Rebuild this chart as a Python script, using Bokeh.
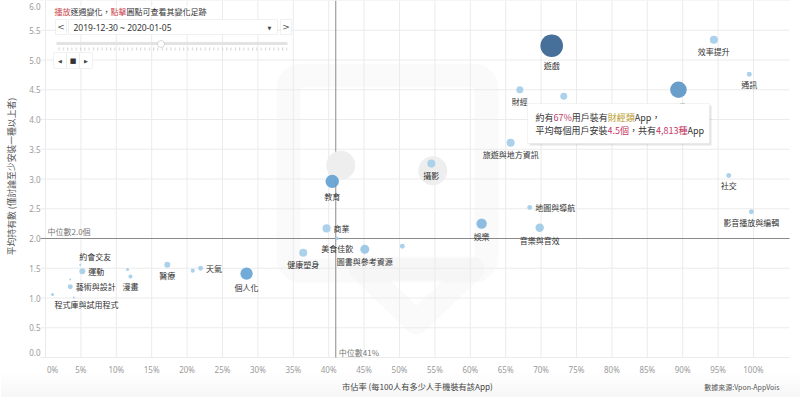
import math
from bokeh.plotting import figure
from bokeh.models import (Range1d, Label, LabelSet, BoxAnnotation, ColumnDataSource,
                          PolyAnnotation)
from bokeh.core.properties import value
from bokeh.embed import file_html
from bokeh.resources import INLINE

# ---------------- data ----------------
categories = ["遊戲", "效率提升", "通訊", "財經", "購物", "工具", "旅遊與地方資訊", "攝影",
              "教育", "社交", "地圖與導航", "影音播放與編輯", "娛樂", "音樂與音效", "商業",
              "美食佳飲", "健康塑身", "圖書與參考資源", "新聞與雜誌", "個人化", "天氣",
              "生活品味", "醫療", "汽車", "漫畫", "運動", "約會交友", "藝術與設計", "活動",
              "房屋和居家裝潢", "程式庫與試用程式"]
share_pct = [71.5, 94.4, 99.4, 67.0, 73.2, 89.4, 65.7, 54.5,
             40.5, 96.5, 68.4, 99.7, 61.6, 69.8, 39.7,
             41.2, 36.4, 45.1, 50.4, 28.4, 21.9,
             20.8, 17.2, 11.6, 12.0, 5.2, 4.9, 3.5, 3.5,
             4.0, 1.0]
avg_apps = [5.24, 5.34, 4.76, 4.5, 4.39, 4.50, 3.61, 3.26,
            2.96, 3.06, 2.52, 2.45, 2.25, 2.18, 2.17,
            2.00, 1.76, 1.82, 1.87, 1.41, 1.50,
            1.46, 1.56, 1.48, 1.36, 1.45, 1.56, 1.19, 1.31,
            1.01, 1.06]
app_count = [50000, 6300, 2400, 4813, 4800, 27000, 6300, 6300,
             17500, 2400, 2400, 2400, 10500, 7000, 6300,
             1300, 6300, 7900, 2400, 15000, 2400,
             1600, 3500, 900, 1600, 3500, 400, 2400, 400,
             400, 900]
# weekly footprint (previous-week positions) for the two highlighted categories
trail_cats = ["教育", "攝影"]
trail_share = [41.7, 54.7]
trail_avg = [3.23, 3.14]

x_ticks = list(range(0, 101, 5))
x_tick_labels = [f"{t}%" for t in x_ticks]
y_ticks = [i * 0.5 for i in range(13)]
y_tick_labels = [f"{t:.1f}" for t in y_ticks]

median_share = 41
median_avg = 2.0
week_label = "2019-12-30 ~ 2020-01-05"
x_title = "市佔率 (每100人有多少人手機裝有該App)"
y_title = "平均持有數 (僅討論至少安裝一種以上者)"
source_text = "數據來源:Vpon-AppVois"

# label placement (style)
below = {"遊戲", "效率提升", "通訊", "財經", "工具", "旅遊與地方資訊", "攝影", "教育", "社交",
         "影音播放與編輯", "娛樂", "音樂與音效", "美食佳飲", "健康塑身", "圖書與參考資源",
         "個人化", "醫療", "漫畫"}
right = {"地圖與導航", "商業", "天氣", "運動", "藝術與設計"}
above = {"約會交友"}
below_right = {"程式庫與試用程式"}

FONT = "Noto Sans CJK TC"

# ---------------- layout (canvas px; the frame covers the whole canvas) ----------------
W, H = 800, 397
X0_PX, PX_PER_PCT = 45, 7.08      # where 0% sits, px per 1%
Y0_PX, PX_PER_UNIT = 357, 59.5    # where 0.0 sits, px per 1.0
XR0 = -X0_PX / PX_PER_PCT
XR1 = XR0 + W / PX_PER_PCT
YR1 = Y0_PX / PX_PER_UNIT
YR0 = YR1 - H / PX_PER_UNIT
PANE_L = XR0 + 40 / PX_PER_PCT
PANE_R = XR0 + 789 / PX_PER_PCT


def sx(wx):
    return wx


def sy(wy):
    return H - wy


p = figure(width=W, height=H, output_backend="svg", toolbar_location=None,
           x_range=Range1d(XR0, XR1), y_range=Range1d(YR0, YR1),
           x_axis_location=None, y_axis_location=None,
           min_border=0, min_border_left=0, min_border_right=0,
           min_border_top=0, min_border_bottom=0)
p.outline_line_color = None
p.background_fill_color = "white"
p.border_fill_color = "white"
p.xgrid.visible = False
p.ygrid.visible = False

# bottom card shadow
for i in range(9):
    p.add_layout(BoxAnnotation(left=0, right=W, bottom=0, top=sy(372 + 3 * i),
                               left_units="screen", right_units="screen",
                               top_units="screen", bottom_units="screen",
                               fill_color="#000000", fill_alpha=0.0055, line_color=None,
                               level="image"))


# ---------------- watermark logo (decoration, screen space) ----------------
def rounded_rect_path(x0, y0, x1, y1, r, n=8):
    pts = []
    corners = [(x1 - r, y0 + r, -90, 0), (x1 - r, y1 - r, 0, 90),
               (x0 + r, y1 - r, 90, 180), (x0 + r, y0 + r, 180, 270)]
    for cx, cy, a0, a1 in corners:
        for i in range(n + 1):
            a = math.radians(a0 + (a1 - a0) * i / n)
            pts.append((cx + r * math.cos(a), cy + r * math.sin(a)))
    return pts


WM = "#f0f0f0"
sq = rounded_rect_path(288, 75, 486, 270, 13)
p.add_layout(PolyAnnotation(xs=[sx(a) for a, b in sq], ys=[sy(b) for a, b in sq],
                            xs_units="screen", ys_units="screen", fill_alpha=0,
                            line_color=WM, line_width=24, line_join="round", level="image"))
tail = [(360, 268), (416, 322), (472, 268)]
p.add_layout(PolyAnnotation(xs=[sx(a) for a, b in tail], ys=[sy(b) for a, b in tail],
                            xs_units="screen", ys_units="screen", fill_alpha=0,
                            line_color=WM, line_width=24, line_join="round", level="image"))

# ---------------- grid ----------------
GRID = "#ebebeb"
p.segment(x0=x_ticks, y0=[0] * len(x_ticks), x1=x_ticks, y1=[YR1] * len(x_ticks),
          line_color=GRID, line_width=1)
p.segment(x0=[PANE_L] * len(y_ticks), y0=y_ticks, x1=[PANE_R] * len(y_ticks), y1=y_ticks,
          line_color=GRID, line_width=1)

# tick labels (edge labels nudged inward like the original)
xt = ColumnDataSource(dict(x=x_ticks, y=[0] * len(x_ticks), text=x_tick_labels,
                           xo=[7 if t == x_ticks[0] else 0 for t in x_ticks],
                           yo=[-12] * len(x_ticks)))
p.add_layout(LabelSet(x="x", y="y", text="text", x_offset="xo", y_offset="yo", source=xt,
                      text_align="center", text_baseline="middle",
                      text_font=value("Noto Sans"), text_font_size=value("8px"),
                      text_color="#9a9a9a"))
yt = ColumnDataSource(dict(x=[40] * len(y_ticks), y=y_ticks, text=y_tick_labels,
                           yo=[5 if t == y_ticks[0] else (-6 if t == y_ticks[-1] else 0)
                               for t in y_ticks]))
p.add_layout(LabelSet(x="x", y="y", text="text", y_offset="yo", source=yt, x_units="screen",
                      text_align="right", text_baseline="middle",
                      text_font=value("Noto Sans"), text_font_size=value("8px"),
                      text_color="#9a9a9a"))

# axis titles & source
p.add_layout(Label(x=sx(417), y=sy(385), x_units="screen", y_units="screen", text=x_title,
                   text_align="center", text_baseline="middle", text_font=FONT,
                   text_font_size="8.2px", text_color="#444444"))
p.add_layout(Label(x=sx(11), y=sy(176), x_units="screen", y_units="screen", text=y_title,
                   angle=math.pi / 2, text_align="center", text_baseline="middle",
                   text_font=FONT, text_font_size="8.8px", text_color="#555555"))
p.add_layout(Label(x=sx(779), y=sy(386), x_units="screen", y_units="screen", text=source_text,
                   text_align="right", text_baseline="middle", text_font=FONT,
                   text_font_size="7px", text_color="#555555"))

# median lines
MED = "#8a8a8a"
p.segment(x0=[median_share], y0=[0], x1=[median_share], y1=[YR1], line_color=MED, line_width=1)
p.segment(x0=[PANE_L], y0=[median_avg], x1=[PANE_R], y1=[median_avg], line_color=MED,
          line_width=1)

# ---------------- bubbles ----------------
rmax = 11.3
kscale = rmax / math.sqrt(max(app_count))
radii = [kscale * math.sqrt(c) for c in app_count]


def hex2rgb(h):
    h = h.lstrip("#")
    return tuple(int(h[i:i + 2], 16) for i in (0, 2, 4))


def mix(a, b, t):
    a, b = hex2rgb(a), hex2rgb(b)
    return "#%02x%02x%02x" % tuple(int(round(a[i] + (b[i] - a[i]) * t)) for i in range(3))


STOPS = [(4.0, "#a6cfea"), (6.3, "#68a5d5"), (8.5, "#6198c6"), (11.3, "#3c6794")]


def bubble_color(r):
    if r <= STOPS[0][0]:
        return STOPS[0][1]
    for (r0, c0), (r1, c1) in zip(STOPS[:-1], STOPS[1:]):
        if r <= r1:
            return mix(c0, c1, (r - r0) / (r1 - r0))
    return STOPS[-1][1]


colors = [bubble_color(r) for r in radii]

trail_src = ColumnDataSource(dict(x=trail_share, y=trail_avg))
p.scatter("x", "y", source=trail_src, size=29, fill_color="#eeeeee", line_color=None)

src = ColumnDataSource(dict(x=share_pct, y=avg_apps, size=[2 * r for r in radii],
                            color=colors, name=categories))
p.scatter("x", "y", source=src, size="size", fill_color="color", fill_alpha=0.95, line_color=None)


def group(names, xoff_fn, yoff_fn):
    idx = [i for i, c in enumerate(categories) if c in names]
    return ColumnDataSource(dict(
        x=[share_pct[i] for i in idx], y=[avg_apps[i] for i in idx],
        text=[categories[i] for i in idx],
        xo=[xoff_fn(radii[i]) for i in idx], yo=[yoff_fn(radii[i]) for i in idx]))


lab_kw = dict(text_font=value(FONT), text_font_size=value("8px"), text_color="#333333")
p.add_layout(LabelSet(x="x", y="y", text="text", x_offset="xo", y_offset="yo",
                      source=group(below, lambda r: 0, lambda r: -(r + 2.5)),
                      text_align="center", text_baseline="top", **lab_kw))
p.add_layout(LabelSet(x="x", y="y", text="text", x_offset="xo", y_offset="yo",
                      source=group(right, lambda r: r + 3, lambda r: 0),
                      text_align="left", text_baseline="middle", **lab_kw))
p.add_layout(LabelSet(x="x", y="y", text="text", x_offset="xo", y_offset="yo",
                      source=group(above, lambda r: -1, lambda r: r + 2),
                      text_align="left", text_baseline="bottom", **lab_kw))
p.add_layout(LabelSet(x="x", y="y", text="text", x_offset="xo", y_offset="yo",
                      source=group(below_right, lambda r: 2, lambda r: -(r + 3)),
                      text_align="left", text_baseline="top", **lab_kw))

# median labels
p.add_layout(Label(x=sx(47), y=median_avg, x_units="screen", y_units="data", y_offset=2,
                   text=f"中位數{median_avg:.1f}個", text_baseline="bottom",
                   text_font=FONT, text_font_size="8px", text_color="#777777"))
p.add_layout(Label(x=median_share, y=sy(352), x_units="data", y_units="screen", x_offset=3,
                   text=f"中位數{median_share}%", text_baseline="middle",
                   text_font=FONT, text_font_size="8px", text_color="#777777"))


# ---------------- helpers for screen-space decorations ----------------
def box(x0, y0, x1, y1, fill="white", line="#cfcfcf", alpha=1.0, radius=0, **kw):
    p.add_layout(BoxAnnotation(left=sx(x0), right=sx(x1), top=sy(y0), bottom=sy(y1),
                               left_units="screen", right_units="screen",
                               top_units="screen", bottom_units="screen",
                               fill_color=fill, fill_alpha=alpha, line_color=line,
                               line_width=1, border_radius=radius, **kw))


def text(wx, wy, t, size=8, color="#333333", align="left", font=FONT, bg=None):
    kw = {}
    if bg is not None:
        kw = dict(background_fill_color=bg, background_fill_alpha=1.0)
    p.add_layout(Label(x=sx(wx), y=sy(wy), x_units="screen", y_units="screen", text=t,
                       text_align=align, text_baseline="middle", text_font=font,
                       text_font_size=f"{size}px", text_color=color, **kw))


def rich_line(wx, wy, segs, size, bg="white"):
    # longest prefix first, each drawn with an opaque background over the previous one
    for k in range(len(segs), 0, -1):
        t = "".join(s for s, _ in segs[:k])
        text(wx, wy, t, size=size, color=segs[k - 1][1], bg=bg)


RED = "#c9484d"
DK = "#333333"

# ---------------- controls (top-left) ----------------
rich_line(54, 11, [("播放", RED), ("逐週變化，", DK), ("點擊", RED), ("圓點可查看其變化足跡", DK)], 8)
box(55, 19, 66, 34)
text(60.5, 26.5, "<", size=9, color="#555555", align="center", font="DejaVu Sans")
box(68, 19, 277, 34)
text(73, 26.5, week_label, size=8.5, color="#333333", font="Noto Sans")
text(269, 27, "▼", size=5, color="#444444", align="center", font="DejaVu Sans")
box(280, 19, 291, 34)
text(285.5, 26.5, ">", size=9, color="#555555", align="center", font="DejaVu Sans")
box(56, 41.5, 287, 44.5, fill="#e3e3e3", line=None)
box(56, 47, 287, 50, fill="white", line=None, alpha=0.0,
    hatch_pattern="vertical_line", hatch_scale=4.3, hatch_color="#d2d2d2", hatch_weight=1)
box(157, 40, 164, 47, fill="white", line="#888888", radius=4)
box(53, 52, 66, 68, radius=1)
box(66, 52, 79, 68, radius=1)
box(79, 52, 92, 68, radius=1)
text(59.5, 60, "◀", size=5, color="#444444", align="center", font="DejaVu Sans")
text(72.5, 60, "■", size=7, color="#333333", align="center", font="DejaVu Sans")
text(85.5, 60, "▶", size=5, color="#444444", align="center", font="DejaVu Sans")

# ---------------- tooltip for 財經 ----------------
fin = categories.index("財經")
PINK = "#c4365f"
GOLD = "#b8982a"
box(529, 105, 711, 145, fill="#000000", line=None, alpha=0.10)
box(527, 103, 709, 143, fill="white", line="#d6d6d6")
rich_line(535, 117, [("約有", DK), (f"{share_pct[fin]:.0f}%", PINK), ("用戶裝有", DK),
                     ("財經類", GOLD), ("App，", DK)], 9)
rich_line(535, 130, [("平均每個用戶安裝", DK), (f"{avg_apps[fin]:.1f}個", PINK), ("，共有", DK),
                     (f"{app_count[fin]:,}種", PINK), ("App", DK)], 9)

open("out.html", "w").write(file_html(p, INLINE))
